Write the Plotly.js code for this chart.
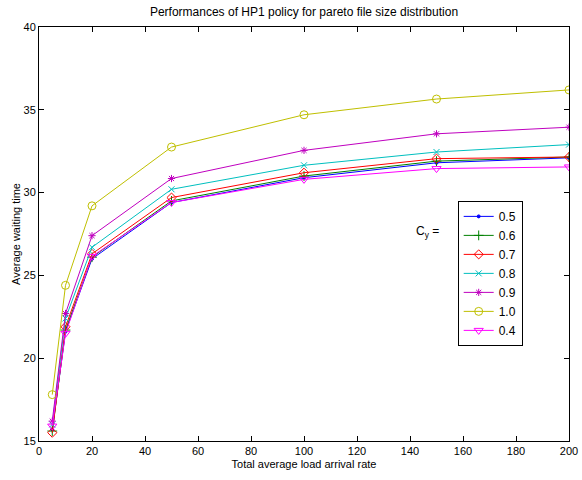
<!DOCTYPE html>
<html>
<head>
<meta charset="utf-8">
<script src="https://cdn.plot.ly/plotly-3.0.1.min.js"></script>
<style>
html,body{margin:0;padding:0;background:#fff;}
#chart{width:582px;height:480px;}
</style>
</head>
<body>
<div id="chart"></div>
<script>
// Data
var arrivalRates = [5, 10, 20, 50, 100, 150, 200];
var seriesNames = ['0.5', '0.6', '0.7', '0.8', '0.9', '1.0', '0.4'];
var cy05 = [15.7, 21.6, 26.0, 29.4, 30.9, 31.8, 32.1];
var cy06 = [15.6, 21.7, 26.1, 29.5, 31.0, 31.9, 32.15];
var cy07 = [15.5, 21.9, 26.3, 29.7, 31.2, 32.05, 32.15];
var cy08 = [16.0, 22.4, 26.7, 30.2, 31.65, 32.45, 32.9];
var cy09 = [16.2, 22.7, 27.4, 30.85, 32.55, 33.55, 33.95];
var cy10 = [17.8, 24.4, 29.2, 32.75, 34.7, 35.65, 36.2];
var cy04 = [15.9, 21.5, 26.15, 29.4, 30.8, 31.45, 31.55];
var seriesValues = [cy05, cy06, cy07, cy08, cy09, cy10, cy04];
var xTickVals = [0, 20, 40, 60, 80, 100, 120, 140, 160, 180, 200];
var yTickVals = [15, 20, 25, 30, 35, 40];

// Styles
var colors = ['#0000ff', '#008000', '#ff0000', '#00bfbf', '#bf00bf', '#bfbf00', '#ff00ff'];
var symbols = ['circle', 'cross-thin-open', 'diamond-open', 'x-thin-open', 'asterisk-open', 'circle-open', 'triangle-down-open'];
var sizes = [3, 7, 7, 6, 6, 8, 8];

var traces = seriesValues.map(function (vals, i) {
  return {
    x: arrivalRates,
    y: vals,
    name: seriesNames[i],
    type: 'scatter',
    mode: 'lines+markers',
    line: {color: colors[i], width: 1},
    marker: {symbol: symbols[i], size: sizes[i], color: colors[i], line: {color: colors[i], width: 1}}
  };
});

var font = 'Liberation Sans, Arial, Helvetica, sans-serif';
var layout = {
  width: 582, height: 480,
  margin: {l: 39, r: 13, t: 27, b: 39},
  paper_bgcolor: '#fff', plot_bgcolor: '#fff',
  font: {family: font, size: 11, color: '#000'},
  showlegend: true,
  title: {text: 'Performances of HP1 policy for pareto file size distribution',
          font: {family: font, size: 12, color: '#000'},
          x: 0.5, xref: 'paper', y: 1 - 12 / 480, yref: 'container', yanchor: 'middle'},
  xaxis: {
    range: [0, 200], tickvals: xTickVals, ticks: 'inside', ticklen: 5, tickcolor: '#000',
    showline: true, linecolor: '#000', linewidth: 1, mirror: 'ticks', showgrid: false, zeroline: false,
    tickfont: {family: font, size: 11, color: '#000'},
    title: {text: 'Total average load arrival rate', font: {family: font, size: 11, color: '#000'}, standoff: 4}
  },
  yaxis: {
    range: [15, 40], tickvals: yTickVals, ticks: 'inside', ticklen: 5, tickcolor: '#000',
    showline: true, linecolor: '#000', linewidth: 1, mirror: 'ticks', showgrid: false, zeroline: false,
    tickfont: {family: font, size: 11, color: '#000'},
    title: {text: 'Average waiting time', font: {family: font, size: 11, color: '#000'}, standoff: 0}
  },
  legend: {
    x: 0.79, y: 0.58, xanchor: 'left', yanchor: 'top',
    bgcolor: '#fff', bordercolor: '#000', borderwidth: 1,
    font: {family: font, size: 12, color: '#000'},
    tracegroupgap: 0, itemwidth: 30
  },
  annotations: [{
    xref: 'paper', yref: 'paper', x: 0.708, y: 0.505, xanchor: 'left', yanchor: 'middle',
    text: 'C<sub>y</sub> =', showarrow: false, font: {family: font, size: 12, color: '#000'}
  }]
};

Plotly.newPlot('chart', traces, layout, {displayModeBar: false, staticPlot: true});
</script>
</body>
</html>
